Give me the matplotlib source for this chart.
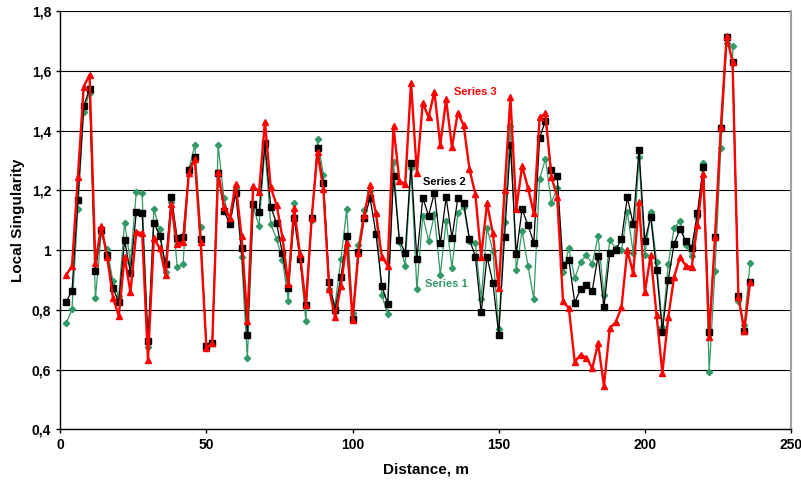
import numpy as np
import matplotlib
matplotlib.use("Agg")
import matplotlib.pyplot as plt
from matplotlib.ticker import FuncFormatter

plt.rcParams["font.family"] = ["Liberation Sans", "DejaVu Sans"]

# distance along the profile, m
distance = list(range(2, 238, 2))

series1 = [0.755, 0.801, 1.136, 1.463, 1.527, 0.838, 1.056, 1.003, 0.896, 0.845,
           1.092, 0.959, 1.195, 1.190, 0.674, 1.137, 1.069, 0.928, 1.160, 0.944,
           0.952, 1.270, 1.351, 1.076, 0.671, 0.688, 1.351, 1.173, 1.100, 1.206,
           0.978, 0.637, 1.145, 1.081, 1.344, 1.086, 1.037, 0.967, 0.831, 1.156,
           0.967, 0.764, 1.100, 1.370, 1.251, 0.868, 0.816, 0.969, 1.137, 0.788,
           1.017, 1.134, 1.198, 1.121, 0.849, 0.786, 1.296, 1.028, 0.947, 1.273,
           0.868, 1.115, 1.031, 1.119, 0.916, 1.098, 0.941, 1.123, 1.145, 1.030,
           1.022, 0.837, 1.073, 0.997, 0.736, 1.093, 1.415, 0.933, 1.065, 0.947,
           0.837, 1.238, 1.305, 1.159, 1.206, 0.925, 1.006, 0.905, 0.961, 0.983,
           0.953, 1.047, 0.849, 1.034, 1.006, 1.000, 1.128, 0.991, 1.310, 0.983,
           1.128, 0.961, 0.743, 0.953, 1.073, 1.097, 1.017, 0.980, 1.112, 1.292,
           0.593, 0.931, 1.343, 1.694, 1.683, 0.829, 0.749, 0.958]

series2 = [0.827, 0.863, 1.167, 1.482, 1.538, 0.930, 1.067, 0.983, 0.872, 0.826,
           1.033, 0.924, 1.128, 1.123, 0.697, 1.092, 1.048, 0.953, 1.179, 1.039,
           1.045, 1.268, 1.312, 1.036, 0.679, 0.690, 1.259, 1.131, 1.086, 1.190,
           1.006, 0.716, 1.153, 1.126, 1.357, 1.145, 1.089, 0.989, 0.874, 1.106,
           0.969, 0.815, 1.106, 1.340, 1.223, 0.894, 0.799, 0.909, 1.047, 0.768,
           0.992, 1.108, 1.173, 1.054, 0.880, 0.820, 1.248, 1.034, 0.991, 1.290,
           0.969, 1.175, 1.115, 1.192, 1.022, 1.176, 1.041, 1.173, 1.159, 1.036,
           0.978, 0.791, 0.978, 0.891, 0.717, 1.045, 1.353, 0.987, 1.137, 1.083,
           1.025, 1.376, 1.433, 1.268, 1.248, 0.950, 0.967, 0.824, 0.870, 0.883,
           0.864, 0.981, 0.808, 0.989, 1.000, 1.036, 1.176, 1.087, 1.335, 1.031,
           1.110, 0.933, 0.727, 0.900, 1.020, 1.070, 1.030, 1.006, 1.125, 1.279,
           0.724, 1.042, 1.409, 1.714, 1.630, 0.847, 0.730, 0.892]

series3 = [0.916, 0.947, 1.243, 1.547, 1.586, 0.955, 1.081, 0.978, 0.841, 0.779,
           0.978, 0.858, 1.061, 1.056, 0.632, 1.039, 1.006, 0.918, 1.154, 1.019,
           1.028, 1.259, 1.305, 1.028, 0.671, 0.690, 1.262, 1.145, 1.106, 1.221,
           1.047, 0.764, 1.214, 1.195, 1.430, 1.210, 1.151, 1.042, 0.886, 1.140,
           0.986, 0.816, 1.106, 1.329, 1.203, 0.868, 0.775, 0.880, 1.025, 0.766,
           0.989, 1.117, 1.218, 1.123, 0.978, 0.948, 1.415, 1.232, 1.221, 1.560,
           1.257, 1.493, 1.444, 1.530, 1.351, 1.504, 1.344, 1.460, 1.418, 1.270,
           1.187, 0.978, 1.156, 1.056, 0.872, 1.201, 1.511, 1.137, 1.281, 1.209,
           1.123, 1.444, 1.457, 1.245, 1.179, 0.829, 0.805, 0.626, 0.649, 0.640,
           0.604, 0.688, 0.545, 0.738, 0.758, 0.808, 1.000, 0.922, 1.162, 0.858,
           0.983, 0.782, 0.589, 0.775, 0.909, 0.976, 0.948, 0.942, 1.084, 1.253,
           0.710, 1.042, 1.411, 1.717, 1.630, 0.844, 0.730, 0.892]

green = "#339966"

fig = plt.figure(figsize=(8.01, 4.83), dpi=100)
ax = fig.add_axes([0.0753, 0.1112, 0.9122, 0.866])

ax.plot(distance, series1, color=green, lw=0.9, marker="D", ms=3.2,
        mec=green, mfc=green, zorder=3)
ax.plot(distance, series2, color="black", lw=0.9, marker="s", ms=4.8,
        mec="black", mfc="black", zorder=4)
ax.plot(distance, series3, color="red", lw=1.7, marker="^", ms=4.8,
        mec="red", mfc="red", zorder=5)

ax.text(141.9, 1.529, "Series 3", color="red", fontsize=8, fontweight="bold",
        ha="center", va="center", zorder=6)
ax.text(131.3, 1.228, "Series 2", color="black", fontsize=8, fontweight="bold",
        ha="center", va="center", zorder=6)
ax.text(131.9, 0.886, "Series 1", color=green, fontsize=8, fontweight="bold",
        ha="center", va="center", zorder=6)

ax.set_xlim(0, 250)
ax.set_ylim(0.4, 1.8)
ax.set_xticks([0, 50, 100, 150, 200, 250])
ax.set_yticks([0.4, 0.6, 0.8, 1.0, 1.2, 1.4, 1.6, 1.8])


def comma(v, pos):
    s = ("%.1f" % v).replace(".", ",")
    return "1" if s == "1,0" else s


ax.yaxis.set_major_formatter(FuncFormatter(comma))
ax.grid(axis="y", color="black", lw=0.8)
ax.set_axisbelow(True)

ax.spines["top"].set_visible(False)
ax.spines["right"].set_color("#a0a0a0")
ax.spines["right"].set_linewidth(1.5)
ax.spines["left"].set_linewidth(1.0)
ax.spines["bottom"].set_linewidth(1.0)
ax.tick_params(direction="out", length=3, width=1, labelsize=10)
for lab in ax.get_xticklabels() + ax.get_yticklabels():
    lab.set_fontweight("bold")

ax.set_xlabel("Distance, m", fontsize=11, fontweight="bold", labelpad=7)
ax.set_ylabel("Local Singularity", fontsize=11, fontweight="bold", labelpad=5)

fig.savefig("out.png", dpi=100)
